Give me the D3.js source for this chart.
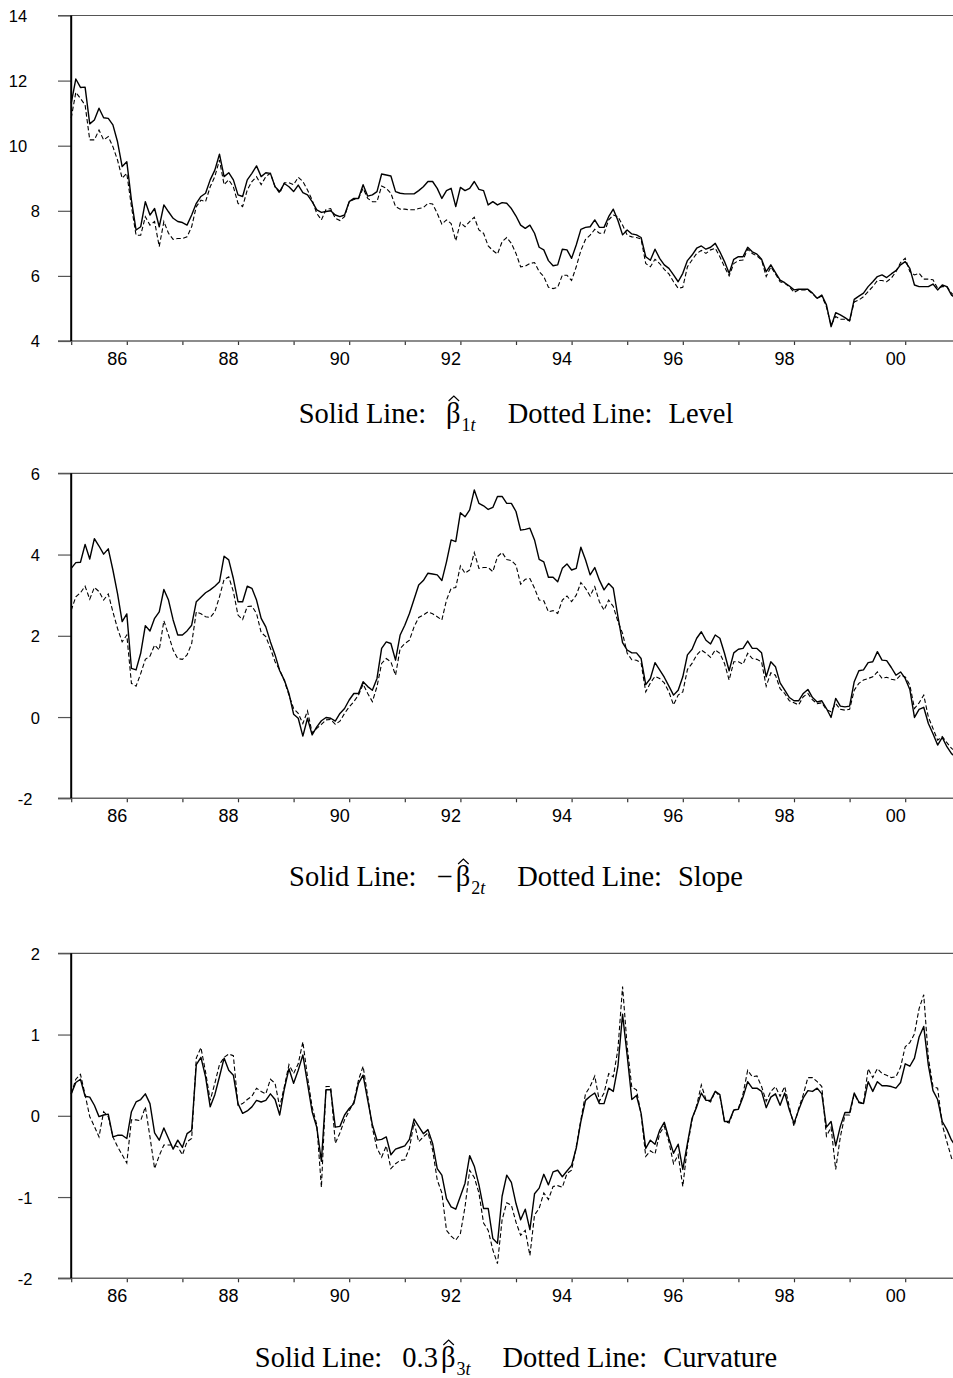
<!DOCTYPE html>
<html>
<head>
<meta charset="utf-8">
<script src="https://cdn.jsdelivr.net/npm/d3@7"></script>
<style>
  body { margin: 0; background: #fff; }
  svg { display: block; }
</style>
</head>
<body>
<div id="chart"></div>
<script>
"use strict";

const width = 953,
      height = 1378;

// monthly series, 1985:01 - 2000:12
const levelSolid = [
  11.3, 12.05, 11.79, 11.8, 10.67, 10.79, 11.15, 10.86, 10.84, 10.64,
  10.12, 9.36, 9.51, 8.33, 7.41, 7.51, 8.28, 7.87, 8.07, 7.51,
  8.18, 7.97, 7.77, 7.67, 7.64, 7.56, 7.87, 8.23, 8.44, 8.54,
  8.95, 9.25, 9.74, 9.05, 9.17, 8.95, 8.49, 8.44, 8.95, 9.15,
  9.38, 9.05, 9.17, 9.15, 8.74, 8.59, 8.84, 8.74, 8.59, 8.79,
  8.56, 8.49, 8.28, 8.03, 7.95, 7.98, 8.0, 7.87, 7.82, 7.87,
  8.28, 8.38, 8.38, 8.8, 8.45, 8.49, 8.59, 9.13, 9.1, 9.07,
  8.59, 8.54, 8.52, 8.52, 8.52, 8.62, 8.74, 8.9, 8.9, 8.69,
  8.38, 8.62, 8.69, 8.13, 8.72, 8.62, 8.69, 8.9, 8.66, 8.62,
  8.18, 8.28, 8.18, 8.25, 8.23, 8.07, 7.84, 7.56, 7.46, 7.56,
  7.31, 6.88, 6.8, 6.47, 6.31, 6.34, 6.82, 6.8, 6.54, 6.95,
  7.43, 7.49, 7.51, 7.72, 7.49, 7.49, 7.82, 8.05, 7.7, 7.26,
  7.41, 7.29, 7.26, 7.18, 6.59, 6.48, 6.82, 6.54, 6.34, 6.23,
  6.03, 5.82, 6.08, 6.47, 6.64, 6.85, 6.92, 6.82, 6.88, 7.0,
  6.74, 6.44, 6.08, 6.51, 6.59, 6.59, 6.88, 6.74, 6.67, 6.51,
  6.13, 6.34, 6.1, 5.87, 5.79, 5.69, 5.57, 5.59, 5.59, 5.59,
  5.47, 5.31, 5.41, 5.11, 4.44, 4.87, 4.8, 4.72, 4.62, 5.28,
  5.38, 5.47, 5.67, 5.82, 5.98, 6.03, 5.95, 6.06, 6.16, 6.34,
  6.44, 6.23, 5.72, 5.67, 5.67, 5.67, 5.75, 5.57, 5.72, 5.67,
  5.41, 5.3
];
const levelDotted = [
  10.85, 11.64, 11.45, 11.25, 10.18, 10.18, 10.48, 10.18, 10.28, 9.97,
  9.56, 9.0, 9.15, 8.13, 7.25, 7.25, 7.82, 7.56, 7.67, 6.9,
  7.67, 7.31, 7.12, 7.15, 7.15, 7.2, 7.51, 8.13, 8.33, 8.28,
  8.74, 9.05, 9.56, 8.8, 8.95, 8.74, 8.23, 8.13, 8.64, 8.9,
  9.05, 8.8, 9.05, 9.15, 8.74, 8.54, 8.86, 8.86, 8.8, 9.03,
  8.9, 8.64, 8.33, 7.92, 7.72, 8.04, 8.07, 7.77, 7.7, 7.82,
  8.28, 8.35, 8.38, 8.69, 8.38, 8.28, 8.28, 8.76, 8.69, 8.54,
  8.13, 8.05, 8.05, 8.03, 8.03, 8.07, 8.1, 8.23, 8.21, 7.92,
  7.59, 7.72, 7.61, 7.08, 7.64, 7.51, 7.67, 7.8, 7.41, 7.31,
  6.92, 6.78, 6.67, 7.05, 7.18, 7.0, 6.69, 6.28, 6.3, 6.38,
  6.41, 6.13, 5.98, 5.65, 5.61, 5.65, 6.02, 6.02, 5.86, 6.28,
  6.78, 7.12, 7.25, 7.43, 7.31, 7.31, 7.72, 7.87, 7.82, 7.56,
  7.25, 7.2, 7.18, 7.13, 6.38, 6.28, 6.51, 6.38, 6.2, 6.06,
  5.82, 5.62, 5.65, 6.28, 6.49, 6.69, 6.78, 6.69, 6.8, 6.85,
  6.59, 6.28, 6.0, 6.38, 6.47, 6.49, 6.82, 6.69, 6.61, 6.49,
  5.98, 6.28, 6.06, 5.82, 5.77, 5.67, 5.49, 5.57, 5.57, 5.57,
  5.45, 5.31, 5.38, 5.05, 4.49, 4.75, 4.67, 4.67, 4.62, 5.2,
  5.26, 5.36, 5.52, 5.67, 5.86, 5.86, 5.82, 5.93, 6.13, 6.41,
  6.54, 6.13, 6.03, 6.08, 5.9, 5.9, 5.88, 5.62, 5.67, 5.67,
  5.47, 5.35
];
const slopeSolid = [
  3.66, 3.8, 3.81, 4.25, 3.89, 4.39, 4.21, 4.01, 4.14, 3.62,
  3.04, 2.35, 2.54, 1.2, 1.16, 1.57, 2.25, 2.12, 2.43, 2.59,
  3.14, 2.88, 2.39, 2.02, 2.02, 2.12, 2.26, 2.84, 2.95, 3.06,
  3.13, 3.22, 3.33, 3.96, 3.87, 3.41, 2.84, 2.84, 3.22, 3.17,
  2.88, 2.43, 2.22, 1.85, 1.53, 1.14, 0.91, 0.58, 0.07, -0.03,
  -0.47, -0.03, -0.44, -0.24, -0.09, -0.01, -0.03, -0.1, 0.09, 0.21,
  0.42, 0.58, 0.58, 0.87, 0.75, 0.66, 0.95, 1.69, 1.85, 1.81,
  1.4, 2.02, 2.26, 2.55, 2.9, 3.25, 3.36, 3.54, 3.52, 3.5,
  3.36, 3.82, 4.36, 4.32, 5.03, 4.93, 5.1, 5.59, 5.26, 5.2,
  5.11, 5.16, 5.43, 5.43, 5.26, 5.26, 5.06, 4.6, 4.62, 4.65,
  4.36, 3.88, 3.82, 3.44, 3.44, 3.33, 3.66, 3.77, 3.62, 3.66,
  4.18, 3.87, 3.5, 3.68, 3.37, 3.13, 3.29, 3.17, 2.47, 1.83,
  1.65, 1.58, 1.58, 1.44, 0.8, 0.95, 1.34, 1.16, 0.98, 0.76,
  0.54, 0.66, 0.99, 1.53, 1.67, 1.94, 2.1, 1.89, 1.8, 2.02,
  1.94, 1.57, 1.14, 1.58, 1.67, 1.69, 1.87, 1.69, 1.69, 1.58,
  0.99, 1.36, 1.24, 0.84, 0.66, 0.48, 0.4, 0.4, 0.58, 0.68,
  0.48, 0.37, 0.4, 0.21, -0.01, 0.46, 0.27, 0.25, 0.27, 0.87,
  1.14, 1.16, 1.34, 1.36, 1.61, 1.4, 1.39, 1.22, 1.03, 1.11,
  0.95, 0.68, -0.01, 0.19, 0.24, -0.16, -0.41, -0.69, -0.5, -0.73,
  -0.9, -1.0
];
const slopeDotted = [
  2.63, 2.96, 3.06, 3.22, 2.9, 3.19, 3.09, 2.88, 3.03, 2.59,
  2.18, 1.85, 2.02, 0.83, 0.76, 1.07, 1.42, 1.5, 1.77, 1.65,
  2.37, 2.02, 1.65, 1.44, 1.42, 1.53, 1.81, 2.59, 2.54, 2.47,
  2.45, 2.59, 2.96, 3.39, 3.45, 3.09, 2.51, 2.4, 2.72, 2.73,
  2.55, 2.08, 1.98, 1.69, 1.36, 1.16, 0.89, 0.54, 0.21, 0.09,
  -0.16, 0.15, -0.39, -0.28, -0.18, -0.07, -0.06, -0.18, -0.1, 0.09,
  0.25, 0.38, 0.54, 0.81, 0.58, 0.38, 0.75, 1.32, 1.44, 1.36,
  1.03, 1.69, 1.81, 1.89, 2.22, 2.45, 2.51, 2.59, 2.54, 2.47,
  2.39, 2.88, 3.17, 3.19, 3.72, 3.54, 3.62, 4.05, 3.66, 3.68,
  3.68, 3.58, 3.95, 4.05, 3.88, 3.85, 3.74, 3.27, 3.39, 3.41,
  3.17, 2.88, 2.86, 2.59, 2.62, 2.55, 2.88, 2.98, 2.84, 3.0,
  3.31, 3.17, 2.98, 3.21, 2.84, 2.63, 2.88, 2.72, 2.35, 2.06,
  1.57, 1.41, 1.4, 1.33, 0.62, 0.84, 1.0, 0.95, 0.84, 0.62,
  0.3, 0.54, 0.62, 1.17, 1.32, 1.53, 1.65, 1.57, 1.47, 1.65,
  1.57, 1.32, 0.91, 1.36, 1.36, 1.3, 1.57, 1.44, 1.42, 1.36,
  0.76, 1.09, 1.03, 0.7, 0.58, 0.4, 0.35, 0.3, 0.5, 0.58,
  0.42, 0.33, 0.35, 0.18, 0.13, 0.33, 0.19, 0.17, 0.19, 0.66,
  0.83, 0.91, 0.95, 0.99, 1.11, 0.95, 0.98, 0.93, 0.91, 1.03,
  0.99, 0.79, 0.21, 0.35, 0.54, 0.0, -0.28, -0.57, -0.48, -0.63,
  -0.77, -0.85
];
const curvSolid = [
  0.27, 0.41, 0.45, 0.24, 0.23, 0.13, -0.01, 0.01, 0.02, -0.26,
  -0.24, -0.24, -0.28, 0.05, 0.17, 0.2, 0.27, 0.15, -0.21, -0.3,
  -0.15, -0.28, -0.41, -0.3, -0.39, -0.22, -0.18, 0.63, 0.72, 0.48,
  0.11, 0.26, 0.48, 0.71, 0.56, 0.5, 0.15, 0.03, 0.06, 0.11,
  0.19, 0.17, 0.19, 0.27, 0.2, 0.01, 0.33, 0.58, 0.4, 0.56,
  0.75, 0.4, 0.05, -0.14, -0.56, 0.32, 0.32, -0.14, -0.13, 0.01,
  0.09, 0.15, 0.4, 0.5, 0.19, -0.11, -0.3, -0.29, -0.26, -0.48,
  -0.41, -0.39, -0.37, -0.29, -0.04, -0.13, -0.22, -0.17, -0.34, -0.65,
  -0.73, -1.02, -1.12, -1.15, -0.99, -0.83, -0.49, -0.62, -0.85, -1.14,
  -1.14, -1.51, -1.57, -0.99, -0.73, -0.82, -1.08, -1.28, -1.15, -1.4,
  -0.96, -0.89, -0.72, -0.85, -0.69, -0.67, -0.75, -0.68, -0.61, -0.4,
  -0.07, 0.19, 0.24, 0.28, 0.15, 0.15, 0.34, 0.3, 0.61, 1.25,
  0.74, 0.2, 0.25, 0.03, -0.4, -0.3, -0.35, -0.18, -0.08, -0.28,
  -0.46, -0.35, -0.66, -0.34, -0.03, 0.11, 0.28, 0.19, 0.19, 0.3,
  0.26, -0.07, -0.07, 0.07, 0.08, 0.23, 0.42, 0.34, 0.34, 0.3,
  0.1, 0.23, 0.27, 0.13, 0.28, 0.07, -0.09, 0.07, 0.22, 0.31,
  0.3, 0.34, 0.27, -0.14, -0.07, -0.37, -0.13, 0.04, 0.04, 0.28,
  0.17, 0.15, 0.42, 0.3, 0.42, 0.37, 0.37, 0.36, 0.34, 0.41,
  0.64, 0.61, 0.71, 0.97, 1.1, 0.62, 0.31, 0.2, -0.07, -0.17,
  -0.3, -0.38
];
const curvDotted = [
  0.27, 0.45, 0.51, 0.26, -0.01, -0.13, -0.26, 0.05, -0.01, -0.26,
  -0.38, -0.48, -0.58, -0.05, -0.05, -0.06, 0.11, -0.26, -0.65, -0.49,
  -0.36, -0.36, -0.36, -0.38, -0.48, -0.32, -0.28, 0.71, 0.84, 0.54,
  0.19, 0.4, 0.63, 0.72, 0.76, 0.74, 0.13, 0.15, 0.2, 0.24,
  0.34, 0.3, 0.27, 0.45, 0.4, 0.11, 0.36, 0.63, 0.52, 0.64,
  0.91, 0.48, 0.11, -0.11, -0.88, 0.36, 0.36, -0.34, -0.21, -0.05,
  0.06, 0.17, 0.44, 0.61, 0.24, -0.15, -0.4, -0.51, -0.37, -0.65,
  -0.59, -0.55, -0.54, -0.4, -0.08, -0.32, -0.26, -0.21, -0.42, -0.79,
  -0.95, -1.41, -1.48, -1.53, -1.45, -1.12, -0.67, -0.76, -0.95, -1.32,
  -1.41, -1.65, -1.82, -1.28, -1.07, -1.1, -1.31, -1.47, -1.41, -1.72,
  -1.22, -1.14, -0.95, -1.03, -0.87, -0.86, -0.88, -0.71, -0.67, -0.38,
  -0.05, 0.27, 0.36, 0.49, 0.18, 0.28, 0.52, 0.48, 0.82, 1.59,
  0.85, 0.35, 0.32, 0.02, -0.5, -0.43, -0.47, -0.22, -0.13, -0.32,
  -0.59, -0.48, -0.87, -0.38, -0.05, 0.13, 0.38, 0.2, 0.17, 0.3,
  0.24, -0.07, -0.09, 0.07, 0.09, 0.27, 0.56, 0.48, 0.49, 0.36,
  0.18, 0.3, 0.36, 0.24, 0.36, 0.11, -0.13, 0.09, 0.26, 0.47,
  0.47, 0.42, 0.36, -0.25, -0.14, -0.66, -0.26, 0.01, 0.01, 0.27,
  0.16, 0.15, 0.58, 0.47, 0.58, 0.52, 0.5, 0.47, 0.48, 0.6,
  0.85, 0.9, 1.01, 1.32, 1.49, 0.71, 0.36, 0.34, -0.11, -0.32,
  -0.52, -0.6
];

const levelTicks = [4, 6, 8, 10, 12, 14];
const slopeTicks = [-2, 0, 2, 4, 6];
const curvTicks = [-2, -1, 0, 1, 2];
const yearTicks = d3.range(1985, 2001);
const yearLabels = {1986: "86", 1988: "88", 1990: "90", 1992: "92",
                    1994: "94", 1996: "96", 1998: "98", 2000: "00"};

const panels = [
  { solid: levelSolid, dotted: levelDotted, ticks: levelTicks,
    top: 15.5, bottom: 341, titleY: 423, prefix: "", sub: "1", name: "Level" },
  { solid: slopeSolid, dotted: slopeDotted, ticks: slopeTicks,
    top: 473.3, bottom: 798.3, titleY: 886, prefix: "\u2212", sub: "2", name: "Slope" },
  { solid: curvSolid, dotted: curvDotted, ticks: curvTicks,
    top: 953.3, bottom: 1278.3, titleY: 1367, prefix: "0.3", sub: "3", name: "Curvature" }
];

const axisLeftX = 71.2,
      tickLeftX = 58;

const x = d3.scaleLinear()
  .domain([1985, 2001])
  .range([axisLeftX, axisLeftX + 16 * 55.6]);

const svg = d3.select("#chart")
  .append("svg")
  .attr("width", width)
  .attr("height", height)
  .attr("viewBox", `0 0 ${width} ${height}`);

panels.forEach(function(p) {
  const y = d3.scaleLinear()
    .domain(d3.extent(p.ticks))
    .range([p.bottom, p.top]);

  const g = svg.append("g");

  // top frame line
  g.append("line")
    .attr("x1", tickLeftX).attr("x2", width)
    .attr("y1", p.top).attr("y2", p.top)
    .attr("stroke", "#555").attr("stroke-width", 1.2);

  // x axis ticks + labels (label ends at its tick)
  const xAxis = d3.axisBottom(x)
    .tickValues(yearTicks)
    .tickSize(4)
    .tickFormat(d => yearLabels[d] || "");
  const gx = g.append("g")
    .attr("transform", `translate(0,${p.bottom})`)
    .call(xAxis);
  gx.select(".domain").remove();
  gx.selectAll(".tick line").attr("stroke", "#333").attr("stroke-width", 1.2);
  gx.selectAll(".tick text")
    .attr("y", 24).attr("dy", 0)
    .attr("text-anchor", "end")
    .attr("fill", "#000")
    .style("font-family", "'Liberation Sans', Arial, sans-serif")
    .style("font-size", "18px");

  g.append("line")
    .attr("x1", tickLeftX).attr("x2", width)
    .attr("y1", p.bottom).attr("y2", p.bottom)
    .attr("stroke", "#666").attr("stroke-width", 1.6);

  // y axis
  const yAxis = d3.axisLeft(y)
    .tickValues(p.ticks)
    .tickSize(axisLeftX - tickLeftX)
    .tickFormat(d => String(d));
  const gy = g.append("g")
    .attr("transform", `translate(${axisLeftX},0)`)
    .call(yAxis);
  gy.select(".domain").remove();
  gy.selectAll(".tick line").attr("stroke", "#555").attr("stroke-width", 1.2);
  gy.selectAll(".tick text")
    .attr("fill", "#000")
    .attr("dy", "0.36em")
    .style("font-family", "'Liberation Sans', Arial, sans-serif")
    .style("font-size", "16.5px")
    .attr("text-anchor", "start")
    .attr("x", function() {
      const w = this.getComputedTextLength();
      return (53 - 2.41 * w) - axisLeftX;
    });

  g.append("line")
    .attr("x1", axisLeftX).attr("x2", axisLeftX)
    .attr("y1", p.top).attr("y2", p.bottom)
    .attr("stroke", "#000").attr("stroke-width", 2);

  const line = d3.line()
    .x((d, i) => x(1985 + i / 12))
    .y(d => y(d));

  g.append("path")
    .datum(p.dotted)
    .attr("d", line)
    .attr("fill", "none")
    .attr("stroke", "#000")
    .attr("stroke-width", 1.1)
    .attr("stroke-dasharray", "4.5,2.5");

  g.append("path")
    .datum(p.solid)
    .attr("d", line)
    .attr("fill", "none")
    .attr("stroke", "#000")
    .attr("stroke-width", 1.4)
    .attr("stroke-linejoin", "round");

  drawTitle(p);
});

function drawTitle(p) {
  const serif = "'Liberation Serif', 'Times New Roman', serif";
  const size = 28.5;
  const t = svg.append("g");
  let cx = 0;

  function piece(str, opts) {
    opts = opts || {};
    const el = t.append("text")
      .attr("x", cx)
      .attr("y", p.titleY + (opts.dy || 0))
      .style("font-family", serif)
      .style("font-size", (opts.size || size) + "px")
      .style("font-style", opts.italic ? "italic" : "normal")
      .text(str);
    const w = el.node().getComputedTextLength();
    cx += w;
    return w;
  }

  piece("Solid Line:");
  cx += 20;
  if (p.prefix) {
    piece(p.prefix);
    cx += 3;
  }
  const bx = cx;
  const bw = piece("\u03b2");
  // hat over beta
  t.append("path")
    .attr("d", `M${bx + 2.5},${p.titleY - 22} L${bx + bw / 2 + 0.5},${p.titleY - 27} L${bx + bw - 1.5},${p.titleY - 22}`)
    .attr("fill", "none")
    .attr("stroke", "#000")
    .attr("stroke-width", 1.2);
  cx += 1;
  piece(p.sub, { size: 18, dy: 8 });
  piece("t", { size: 18, dy: 8, italic: true });
  cx += 32;
  piece("Dotted Line:");
  cx += 16;
  piece(p.name);

  const total = cx;
  const center = (x.range()[0] + x.range()[1]) / 2;
  t.attr("transform", `translate(${center - total / 2},0)`);
}
</script>
</body>
</html>
